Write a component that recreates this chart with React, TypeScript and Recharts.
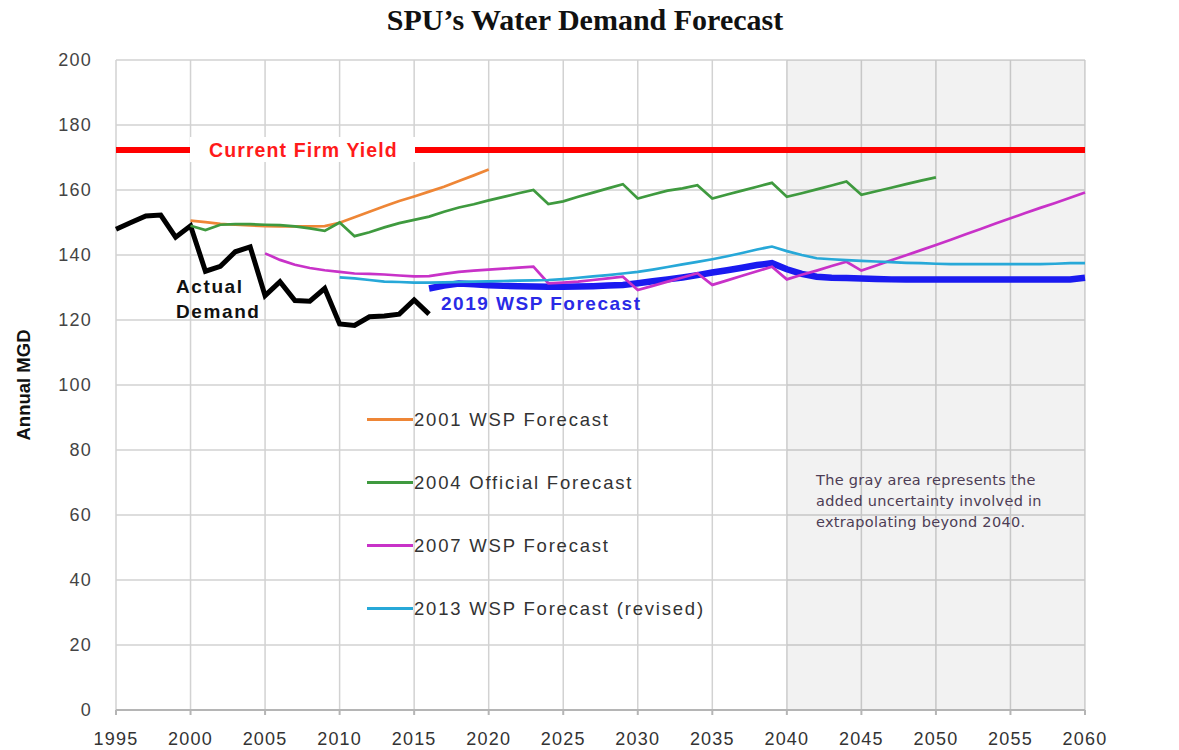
import {
  ComposedChart,
  Line,
  XAxis,
  YAxis,
  CartesianGrid,
  ReferenceArea,
} from "recharts";

// SPU water demand forecast — actual demand vs. successive WSP forecasts.
// Values (annual MGD), one per year.

const yearTicks = [1995, 2000, 2005, 2010, 2015, 2020, 2025, 2030, 2035, 2040, 2045, 2050, 2055, 2060];
const mgdTicks = [0, 20, 40, 60, 80, 100, 120, 140, 160, 180, 200];

const firmYieldYears = [1995, 2060];
const firmYield = [172.3, 172.3];

const actualStart = 1995;
const actualDemand = [
  147.9, 150, 152, 152.3, 145.5, 149, 135, 136.5, 141, 142.5, 127.5,
  131.8, 126, 125.8, 129.7, 118.8, 118.3, 121, 121.2, 121.8, 126.2, 121.8,
];

const wsp2001Start = 2000;
const wsp2001 = [
  150.6, 150.1, 149.6, 149.3, 149.1, 148.9, 148.8, 148.8, 148.8, 148.9, 149.9,
  151.6, 153.3, 155, 156.6, 158, 159.5, 161, 162.8, 164.5, 166.3,
];

const official2004Start = 2000;
const official2004 = [
  149, 147.7, 149.3, 149.5, 149.5, 149.3, 149.2, 148.8, 148.2, 147.4, 150,
  145.8, 147, 148.5, 149.8, 150.8, 151.8, 153.3, 154.6, 155.6, 156.8,
  157.9, 159, 160, 155.7, 156.5, 157.9, 159.2, 160.5, 161.8, 157.4,
  158.6, 159.8, 160.5, 161.5, 157.4, 158.6, 159.8, 161, 162.2, 157.9,
  159, 160.2, 161.4, 162.6, 158.5, 159.6, 160.7, 161.8, 162.9, 163.9,
];

const wsp2007Start = 2005;
const wsp2007 = [
  140.5, 138.5, 137, 136, 135.3, 134.8, 134.3, 134.2, 134, 133.7, 133.4,
  133.5, 134.2, 134.8, 135.2, 135.5, 135.8, 136.1, 136.4, 131.3, 131.5,
  131.8, 132.3, 132.8, 133.3, 129.2, 130.5, 131.8, 133.1, 134.4, 130.8,
  132.2, 133.6, 135, 136.4, 132.5, 133.9, 135.2, 136.6, 137.9, 135.2,
  136.8, 138.4, 139.9, 141.5, 143.1, 144.7, 146.4, 148, 149.7, 151.3,
  152.9, 154.5, 156, 157.6, 159.2,
];

const wsp2013Start = 2010;
const wsp2013 = [
  133.1, 132.8, 132.3, 131.8, 131.7, 131.5, 131.5, 131.6, 131.7, 131.8, 131.9,
  132, 132.1, 132.2, 132.3, 132.6, 133, 133.4, 133.8, 134.3, 134.8,
  135.5, 136.3, 137.1, 137.9, 138.7, 139.6, 140.6, 141.7, 142.6, 141.2,
  140, 139, 138.7, 138.4, 138.2, 138, 137.8, 137.6, 137.5, 137.3,
  137.2, 137.2, 137.2, 137.2, 137.2, 137.2, 137.2, 137.3, 137.5, 137.5,
];

const wsp2019Start = 2016;
const wsp2019 = [
  129.7, 130.6, 131.2, 131, 130.7, 130.5, 130.4, 130.3, 130.2, 130.2,
  130.3, 130.4, 130.6, 130.8, 131.3, 131.9, 132.5, 133.1, 133.8, 134.6,
  135.3, 136.1, 136.9, 137.5, 135.6, 134.2, 133.3, 133, 132.9, 132.8,
  132.6, 132.5, 132.5, 132.5, 132.5, 132.5, 132.5, 132.5, 132.5, 132.5,
  132.5, 132.5, 132.5, 132.5, 133,
];

// thin forecast series shown in the in-plot legend
const forecastNames = [
  "2001 WSP Forecast",
  "2004 Official Forecast",
  "2007 WSP Forecast",
  "2013 WSP Forecast (revised)",
];
const forecastColors = ["#ee8636", "#3f9a3f", "#c832c8", "#27a8d8"];
const forecastStarts = [wsp2001Start, official2004Start, wsp2007Start, wsp2013Start];
const forecastValues = [wsp2001, official2004, wsp2007, wsp2013];

const yearly = (start: number, values: number[]) =>
  values.map((v, i) => ({ year: start + i, v }));

const firmData = firmYieldYears.map((year, i) => ({ year, v: firmYield[i] }));

const TEXT = "'Liberation Sans', Arial, sans-serif";

export default function App() {
  return (
    <div
      style={{
        position: "absolute",
        left: 0,
        top: 0,
        width: 1179,
        height: 750,
        background: "#fff",
        fontFamily: TEXT,
      }}
    >
      <ComposedChart
        width={1179}
        height={750}
        margin={{ top: 60, right: 94, bottom: 0, left: 0 }}
      >
        <CartesianGrid stroke="#d2d2d2" strokeWidth={1.5} />
        <ReferenceArea
          x1={2040}
          x2={2060}
          y1={0}
          y2={200}
          fill="#000"
          fillOpacity={0.05}
          stroke="none"
        />
        <XAxis
          type="number"
          dataKey="year"
          domain={[1995, 2060]}
          ticks={yearTicks}
          height={40}
          tickSize={5}
          tickMargin={17}
          stroke="#b5b5b5"
          strokeWidth={2}
          tick={{ fill: "#333", fontSize: 18, letterSpacing: 1.2 }}
        />
        <YAxis
          type="number"
          domain={[0, 200]}
          ticks={mgdTicks}
          width={116}
          axisLine={false}
          tickLine={false}
          tickSize={0}
          tickMargin={24}
          tick={{ fill: "#444", fontSize: 18, letterSpacing: 1.2 }}
        />
        <Line
          data={firmData}
          dataKey="v"
          name="Current Firm Yield"
          stroke="#ff0000"
          strokeWidth={6}
          dot={false}
          isAnimationActive={false}
        />
        <Line
          data={yearly(actualStart, actualDemand)}
          dataKey="v"
          name="Actual Demand"
          stroke="#000"
          strokeWidth={5}
          dot={false}
          isAnimationActive={false}
        />
        <Line
          data={yearly(wsp2019Start, wsp2019)}
          dataKey="v"
          name="2019 WSP Forecast"
          stroke="#1a1af0"
          strokeWidth={6.5}
          dot={false}
          isAnimationActive={false}
        />
        {forecastNames.map((name, i) => (
          <Line
            key={name}
            data={yearly(forecastStarts[i], forecastValues[i])}
            dataKey="v"
            name={name}
            stroke={forecastColors[i]}
            strokeWidth={2.7}
            dot={false}
            isAnimationActive={false}
          />
        ))}
      </ComposedChart>

      {/* legend, placed inside the plot as in the original slide */}
      <div style={{ position: "absolute", left: 367, top: 388, width: 440 }}>
        {forecastNames.map((name, i) => (
          <div key={name} style={{ height: 63, display: "flex", alignItems: "center" }}>
            <span
              style={{ display: "inline-block", width: 46, height: 3, background: forecastColors[i] }}
            />
            <span style={{ fontSize: 18.5, letterSpacing: 1.8, color: "#333", marginLeft: 1 }}>
              {name}
            </span>
          </div>
        ))}
      </div>

      <svg
        width={1179}
        height={750}
        style={{ position: "absolute", left: 0, top: 0, pointerEvents: "none" }}
      >
        <text
          x={585}
          y={30}
          textAnchor="middle"
          fontFamily="'Liberation Serif', 'Times New Roman', serif"
          fontWeight="bold"
          fontSize={30}
          fill="#111"
        >
          SPU’s Water Demand Forecast
        </text>
        <text
          x={23}
          y={385}
          transform="rotate(-90 23 385)"
          textAnchor="middle"
          dominantBaseline="central"
          fontWeight="bold"
          fontSize={18.5}
          fill="#111"
        >
          Annual MGD
        </text>
        <rect x={190} y={137} width={225} height={25} fill="#fff" />
        <text x={209} y={157} fontWeight="bold" fontSize={19.5} letterSpacing={1.1} fill="#ff1a1a">
          Current Firm Yield
        </text>
        <text x={176} y={293} fontWeight="bold" fontSize={19} letterSpacing={1.6} fill="#111">
          Actual
        </text>
        <text x={176} y={318} fontWeight="bold" fontSize={19} letterSpacing={1.6} fill="#111">
          Demand
        </text>
        <text x={441} y={310} fontWeight="bold" fontSize={19} letterSpacing={1.5} fill="#2a2ae6">
          2019 WSP Forecast
        </text>
        <g
          fontFamily="'DejaVu Sans', Verdana, sans-serif"
          fontSize={14.5}
          letterSpacing={0.3}
          fill="#4d3d55"
        >
          <text x={816} y={485}>The gray area represents the</text>
          <text x={816} y={506}>added uncertainty involved in</text>
          <text x={816} y={527}>extrapolating beyond 2040.</text>
        </g>
      </svg>
    </div>
  );
}
